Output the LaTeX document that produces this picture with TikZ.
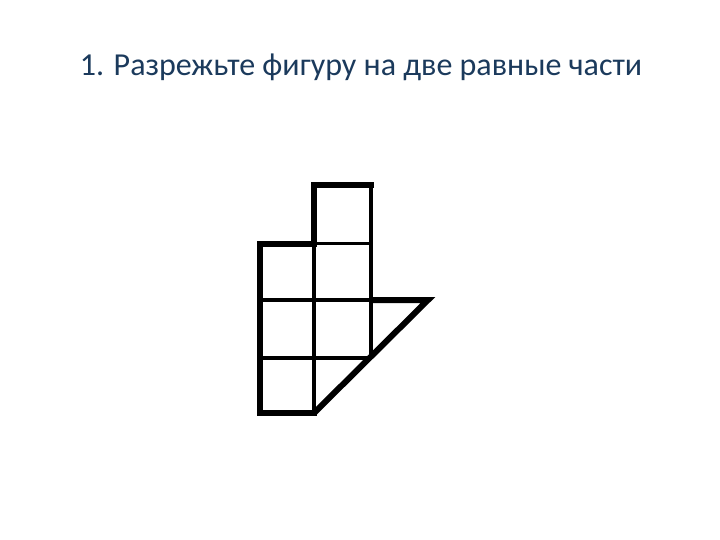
\documentclass[tikz,border=0pt]{standalone}
\usepackage{fontspec}
\setmainfont{Carlito}
\definecolor{titleblue}{HTML}{1B3A5C}
\begin{document}
\begin{tikzpicture}[x=1pt,y=-1pt,
  thick line/.style={line width=6pt,line cap=rect,line join=miter},
  thin line/.style={line width=3.5pt,line cap=butt}]
\useasboundingbox[fill=white] (0,0) rectangle (720,540);
\node[anchor=base,font=\fontsize{32}{36}\selectfont,text=titleblue,inner sep=0pt] (title) at (361,76) {1. Разрежьте фигуру на две равные части};
% grid coordinates
\coordinate (A) at (259.5,413);   % bottom-left
\coordinate (B) at (259.5,243.5); % top-left of left column
\coordinate (C) at (314,243.5);
\coordinate (D) at (314,185);
\coordinate (E) at (371,185);
\coordinate (F) at (371,300);
\coordinate (G) at (428,300);
\coordinate (H) at (314,413);
\coordinate (K) at (371,358);
% inner lines
\draw[thin line] (B) -- (E |- B);
\draw[thin line] (259.5,300) -- (F);
\draw[thin line] (259.5,358) -- (K);
\draw[thin line] (C) -- (H);
\draw[thin line] (F) -- (K);
% right side of top cells (thinner outline)
\draw[line width=4.5pt] (E) -- (F);
% outline
\draw[thick line] (E) -- (D) -- (C) -- (B) -- (A) -- (H);
\draw[thick line,line cap=butt] (F) -- (G) -- (H);
\end{tikzpicture}
\end{document}
